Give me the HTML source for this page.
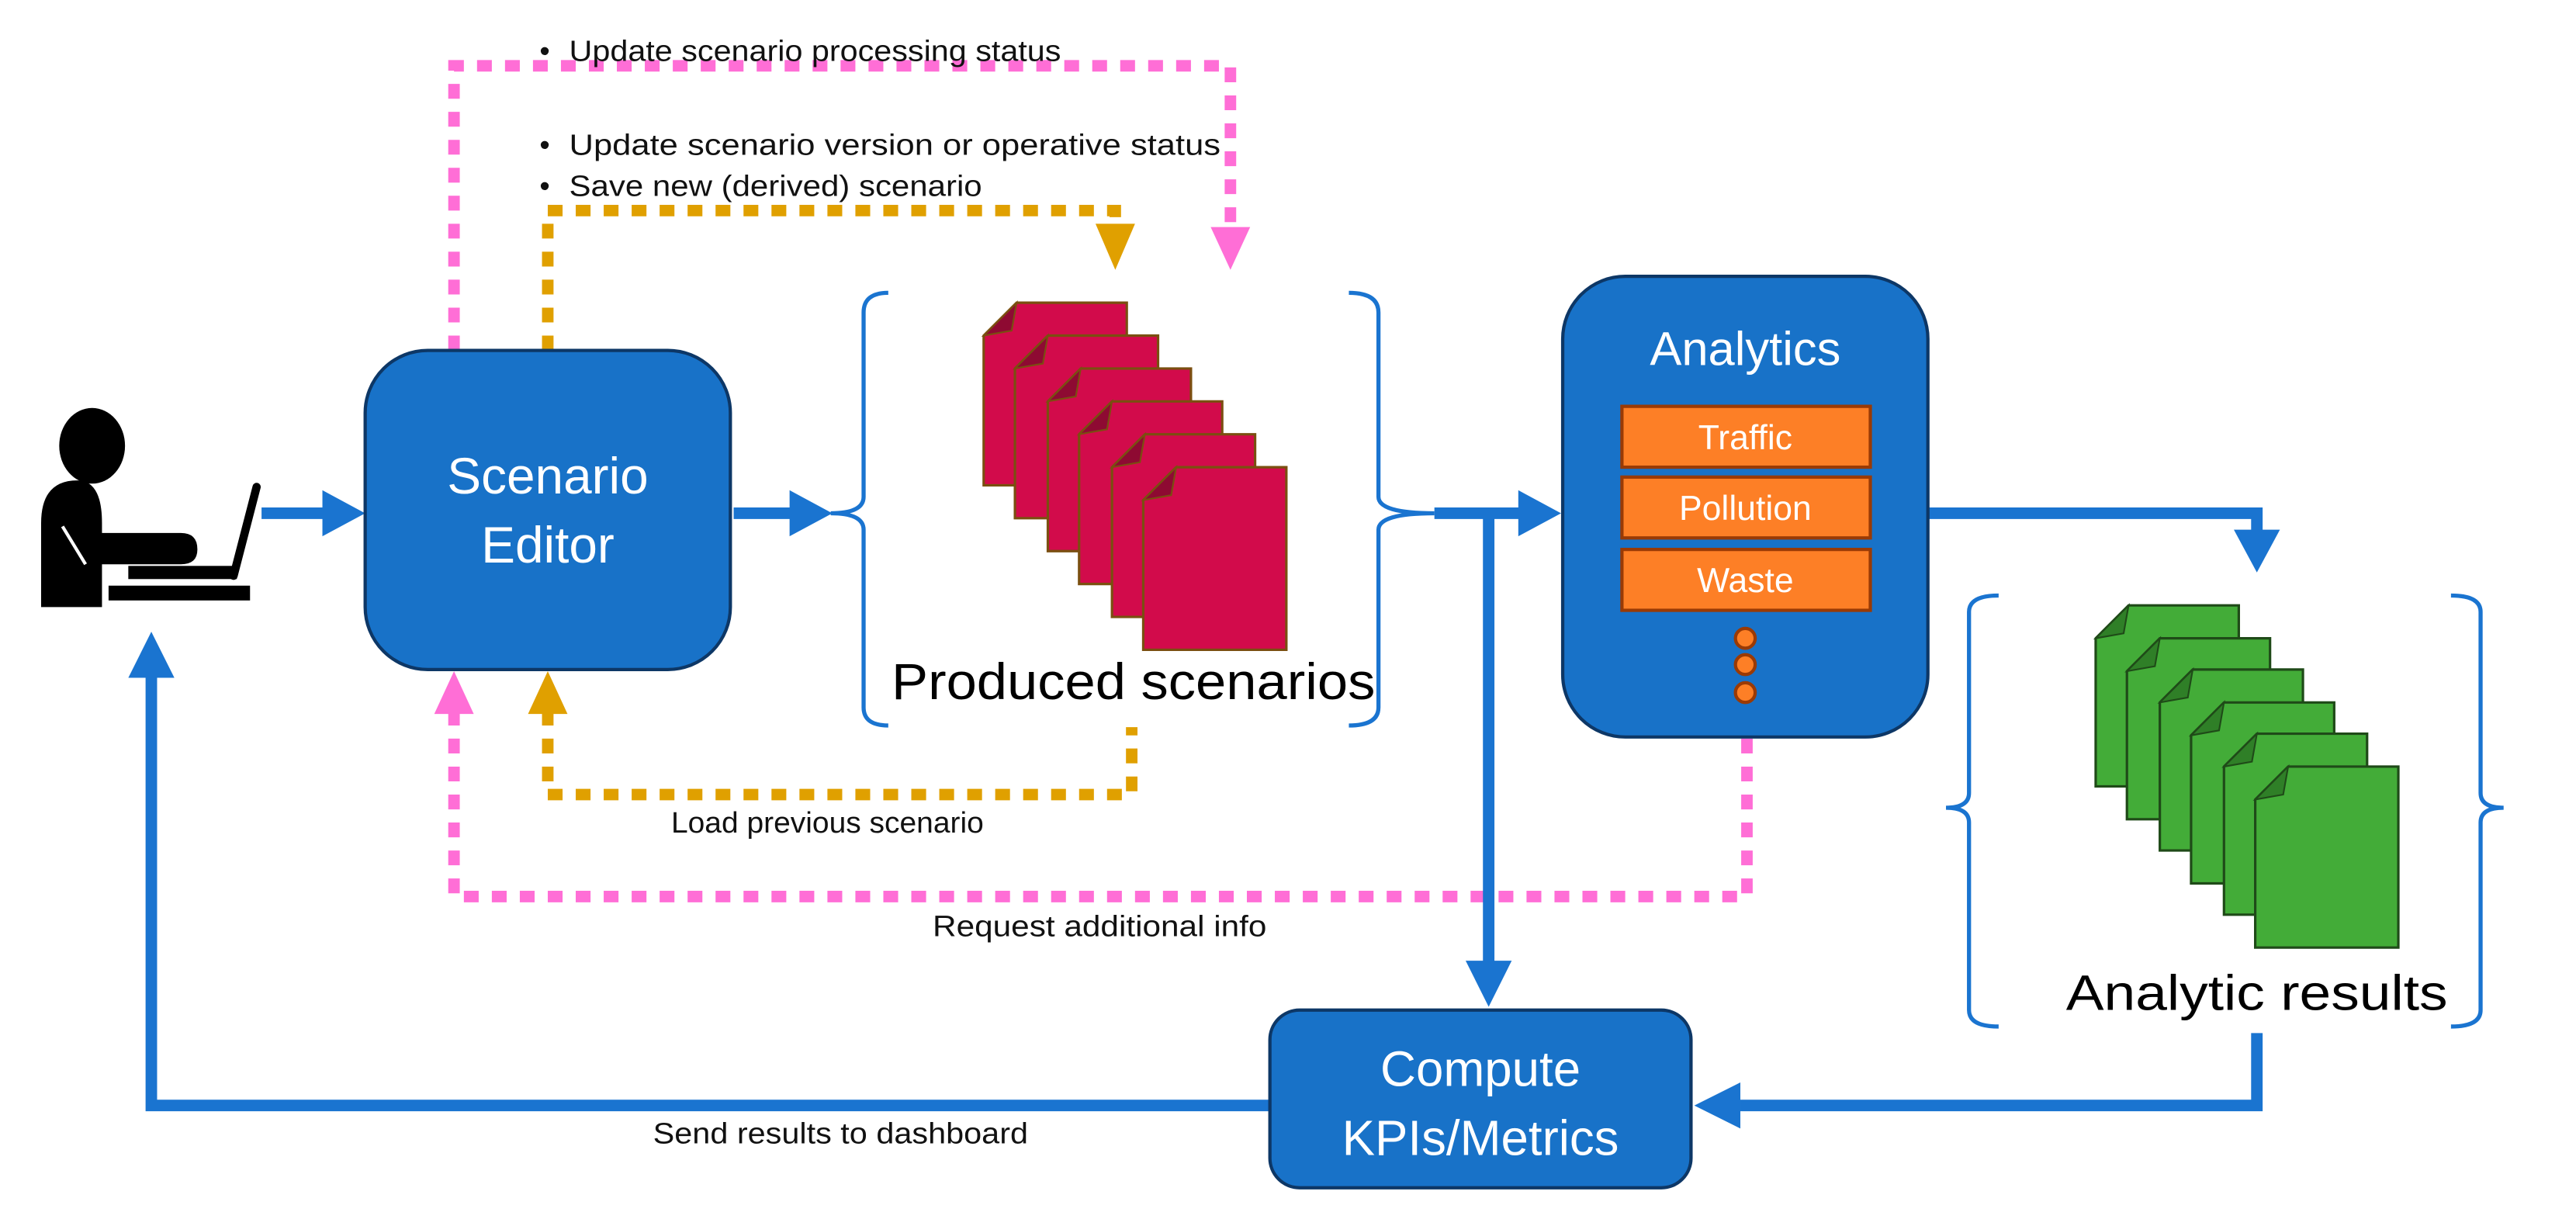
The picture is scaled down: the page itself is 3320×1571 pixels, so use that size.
<!DOCTYPE html>
<html><head><meta charset="utf-8"><style>
html,body{margin:0;padding:0;background:#fff;}
svg{display:block;}
text{font-family:"Liberation Sans",sans-serif;}
</style></head><body>
<svg width="3320" height="1571" viewBox="0 0 1566 741" preserveAspectRatio="none" xmlns="http://www.w3.org/2000/svg">
<defs>
<g id="rdoc"><path d="M20,0 H87 V111 H0 V20 Z" fill="#d20b4b" stroke="#7a4f10" stroke-width="1.5"/><path d="M0,20 L20,0 L17,17 Z" fill="#8e0a32" stroke="#7a4f10" stroke-width="1"/></g>
<g id="gdoc"><path d="M20,0 H87 V110 H0 V20 Z" fill="#43ac38" stroke="#1f4a18" stroke-width="1.5"/><path d="M0,20 L20,0 L17,17 Z" fill="#2f7f27" stroke="#1f4a18" stroke-width="1"/></g>
</defs>

<path d="M276,213 V40 H748 V140" fill="none" stroke="#ff6ed6" stroke-width="7" stroke-dasharray="9,8"/>
<polygon points="736,138 760,138 748,164" fill="#ff6ed6"/>
<path d="M333,213 V128 H678 V138" fill="none" stroke="#e0a000" stroke-width="7" stroke-dasharray="9,8"/>
<polygon points="666,136 690,136 678,164" fill="#e0a000"/>

<path d="M276,432 V545 H1062 V449" fill="none" stroke="#ff6ed6" stroke-width="7" stroke-dasharray="9,8"/>
<polygon points="264,434 288,434 276,408" fill="#ff6ed6"/>
<path d="M333,432 V483 H688 V442" fill="none" stroke="#e0a000" stroke-width="7" stroke-dasharray="9,8"/>
<polygon points="321,434 345,434 333,408" fill="#e0a000"/>

<g font-size="18" fill="#111">
<text x="328" y="37">•</text>
<text x="346" y="37" textLength="299" lengthAdjust="spacingAndGlyphs">Update scenario processing status</text>
<text x="328" y="94">•</text>
<text x="346" y="94" textLength="396" lengthAdjust="spacingAndGlyphs">Update scenario version or operative status</text>
<text x="328" y="119">•</text>
<text x="346" y="119" textLength="251" lengthAdjust="spacingAndGlyphs">Save new (derived) scenario</text>
<text x="408" y="506" textLength="190" lengthAdjust="spacingAndGlyphs">Load previous scenario</text>
<text x="567" y="569" textLength="203" lengthAdjust="spacingAndGlyphs">Request additional info</text>
<text x="397" y="695" textLength="228" lengthAdjust="spacingAndGlyphs">Send results to dashboard</text>
</g>

<ellipse cx="56" cy="271" rx="20" ry="23" fill="#000"/>
<path d="M25,369 V318 Q25,292 47,292 Q62,292 62,318 V324 H110 Q120,324 120,334 Q120,343 110,343 H62 V369 Z" fill="#000"/>
<line x1="38" y1="320" x2="52" y2="343" stroke="#fff" stroke-width="2"/>
<line x1="156" y1="296" x2="142" y2="350" stroke="#000" stroke-width="5" stroke-linecap="round"/>
<rect x="78" y="344" width="66" height="8" fill="#000"/>
<rect x="66" y="356" width="86" height="9" fill="#000"/>

<g stroke="#1a74d0" stroke-width="7" fill="none">
<line x1="159" y1="312" x2="198" y2="312"/>
<line x1="446" y1="312" x2="482" y2="312"/>
<line x1="872" y1="312" x2="925" y2="312"/>
<line x1="905" y1="312" x2="905" y2="585"/>
<path d="M1172,312 H1372 V325"/>
<path d="M1372,628 V672 H1058"/>
<path d="M772,672 H92 V410"/>
</g>
<g fill="#1a74d0">
<polygon points="196,298 222,312 196,326"/>
<polygon points="480,298 506,312 480,326"/>
<polygon points="923,298 949,312 923,326"/>
<polygon points="891,584 919,584 905,612"/>
<polygon points="1358,322 1386,322 1372,348"/>
<polygon points="1058,658 1058,686 1030,672"/>
<polygon points="78,412 106,412 92,384"/>
</g>

<g stroke="#1a74d0" stroke-width="2.5" fill="none">
<path d="M540,178 Q525,178 525,190 V302 Q525,312 505,312 Q525,312 525,322 V430 Q525,441 540,441"/>
<path d="M820,178 Q838,178 838,190 V302 Q838,312 872,312 Q838,312 838,322 V430 Q838,441 820,441"/>
<path d="M1215,362 Q1197,362 1197,372 V482 Q1197,491 1183,491 Q1197,491 1197,500 V614 Q1197,624 1215,624"/>
<path d="M1490,362 Q1508,362 1508,372 V482 Q1508,491 1522,491 Q1508,491 1508,500 V614 Q1508,624 1490,624"/>
</g>

<use href="#rdoc" x="598" y="184"/>
<use href="#rdoc" x="617" y="204"/>
<use href="#rdoc" x="637" y="224"/>
<use href="#rdoc" x="656" y="244"/>
<use href="#rdoc" x="676" y="264"/>
<use href="#rdoc" x="695" y="284"/>
<text x="689" y="425" font-size="31" text-anchor="middle" fill="#000" textLength="294" lengthAdjust="spacingAndGlyphs">Produced scenarios</text>

<use href="#gdoc" x="1274" y="368"/>
<use href="#gdoc" x="1293" y="388"/>
<use href="#gdoc" x="1313" y="407"/>
<use href="#gdoc" x="1332" y="427"/>
<use href="#gdoc" x="1352" y="446"/>
<use href="#gdoc" x="1371" y="466"/>
<text x="1372" y="614" font-size="30" text-anchor="middle" fill="#000" textLength="232" lengthAdjust="spacingAndGlyphs">Analytic results</text>

<rect x="222" y="213" width="222" height="194" rx="38" fill="#1872c8" stroke="#0d3766" stroke-width="2"/>
<text x="333" y="300" font-size="31" fill="#fff" text-anchor="middle">Scenario</text>
<text x="333" y="342" font-size="31" fill="#fff" text-anchor="middle">Editor</text>

<rect x="950" y="168" width="222" height="280" rx="38" fill="#1872c8" stroke="#0d3766" stroke-width="2"/>
<text x="1061" y="222" font-size="29" fill="#fff" text-anchor="middle">Analytics</text>
<g fill="#fd7f26" stroke="#9a3a05" stroke-width="2">
<rect x="986" y="247" width="151" height="37"/>
<rect x="986" y="290" width="151" height="37"/>
<rect x="986" y="334" width="151" height="37"/>
<circle cx="1061" cy="388" r="6"/>
<circle cx="1061" cy="404" r="6"/>
<circle cx="1061" cy="421" r="6"/>
</g>
<g font-size="21" fill="#fff" text-anchor="middle">
<text x="1061" y="273">Traffic</text>
<text x="1061" y="316">Pollution</text>
<text x="1061" y="360">Waste</text>
</g>

<rect x="772" y="614" width="256" height="108" rx="18" fill="#1872c8" stroke="#0d3766" stroke-width="2"/>
<text x="900" y="660" font-size="30" fill="#fff" text-anchor="middle">Compute</text>
<text x="900" y="702" font-size="30" fill="#fff" text-anchor="middle">KPIs/Metrics</text>
</svg>
</body></html>
